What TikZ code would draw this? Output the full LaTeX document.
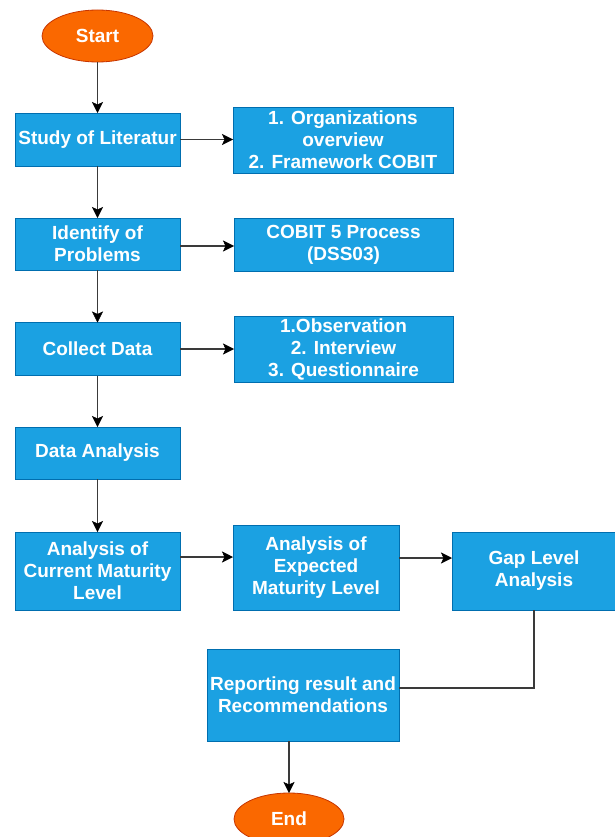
\documentclass[tikz,border=0pt]{standalone}
\usepackage{fontspec}
\setmainfont{Liberation Sans}
\usetikzlibrary{shapes.geometric,arrows.meta}
\definecolor{boxblue}{HTML}{1BA1E2}
\definecolor{boxedge}{HTML}{006EAF}
\definecolor{termfill}{HTML}{FA6800}
\definecolor{termedge}{HTML}{C73500}
\definecolor{linegray}{HTML}{3A3A3A}
\begin{document}
\begin{tikzpicture}[x=1pt,y=-1pt,
  every node/.style={inner sep=0pt,outer sep=0pt,font=\fontsize{19}{22}\selectfont\bfseries,text=white,align=center},
  procbox/.style={rectangle,fill=boxblue,draw=boxedge,line width=0.8pt},
  termnode/.style={ellipse,fill=termfill,draw=termedge,line width=0.8pt,minimum width=111pt,minimum height=52pt},
  arr/.style={draw=linegray,line width=1.8pt,-{Stealth[length=11pt,width=11pt,inset=2.5pt,color=black,line width=0.5pt]}},
  plainline/.style={draw=linegray,line width=1.8pt}
]
\useasboundingbox (0,0) rectangle (615,837);
\fill[white] (0,0) rectangle (615,837);
\begin{scope}
\clip (0,0) rectangle (615,837);
\node[termnode] (start) at (97.5,36) {Start};
\node[procbox,minimum width=165pt,minimum height=53pt] (study) at (97.5,139.5) {Study of Literatur};
\node[procbox,minimum width=220pt,minimum height=66pt] (org) at (343,140) {1. Organizations\\overview\\2. Framework COBIT};
\node[procbox,minimum width=165pt,minimum height=52pt] (ident) at (97.5,244) {Identify of\\Problems};
\node[procbox,minimum width=219pt,minimum height=53pt] (cobit) at (343.5,244.5) {COBIT 5 Process\\(DSS03)};
\node[procbox,minimum width=165pt,minimum height=53pt] (collect) at (97.5,349) {Collect Data};
\node[procbox,minimum width=219pt,minimum height=66pt] (obs) at (343.5,349) {1.Observation\\2. Interview\\3. Questionnaire};
\node[procbox,minimum width=165pt,minimum height=52pt] (dana) at (97.5,453) {Data Analysis};
\node[procbox,minimum width=165pt,minimum height=78pt] (cur) at (97.5,571) {Analysis of\\Current Maturity\\Level};
\node[procbox,minimum width=166pt,minimum height=85pt] (exp) at (316,567.5) {Analysis of\\Expected\\Maturity Level};
\node[procbox,minimum width=164pt,minimum height=78pt] (gap) at (534,571) {Gap Level\\Analysis};
\node[procbox,minimum width=192pt,minimum height=92pt] (rep) at (303,695) {Reporting result and\\Recommendations};
\node[termnode,minimum width=110pt] (end) at (289,819) {End};

\draw[arr] (start) -- (study);
\draw[arr] (study) -- (ident);
\draw[arr] (ident) -- (collect);
\draw[arr] (collect) -- (dana);
\draw[arr] (dana) -- (cur);
\draw[arr] (study.east) -- (study.east -| org.west);
\draw[arr] ([yshift=-2pt]ident.east) -- ([yshift=-2pt]ident.east -| cobit.west);
\draw[arr] (collect.east) -- (collect.east -| obs.west);
\draw[arr] ([yshift=14pt]cur.east) -- ([yshift=14pt]cur.east -| exp.west);
\draw[arr] ([yshift=9.5pt]exp.east) -- ([yshift=9.5pt]exp.east -| gap.west);
\draw[plainline] (gap.south) |- ([yshift=7pt]rep.east);
\draw[arr] (end.north |- rep.south) -- (end.north);
\end{scope}
\end{tikzpicture}
\end{document}
